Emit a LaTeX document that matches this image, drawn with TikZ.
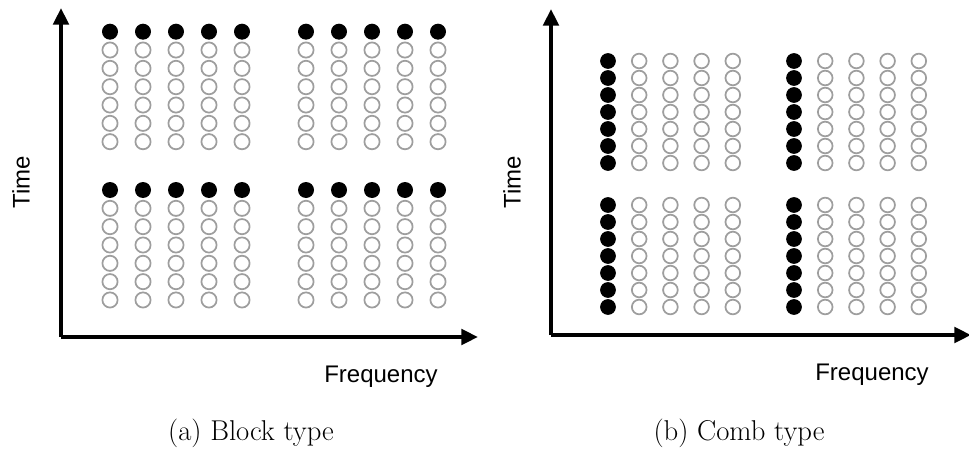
\documentclass[tikz,border=0pt]{standalone}
\usepackage{fontspec}
\newfontfamily\axisfont{Liberation Sans}
\usetikzlibrary{arrows.meta}
\definecolor{pilotgray}{rgb}{0.62,0.62,0.62}
\tikzset{
  axisline/.style={line width=3pt, -{Triangle[length=12.5pt,width=11.5pt]}},
  axislabel/.style={font=\axisfont\fontsize{18}{21}\selectfont, inner sep=0pt},
  caption/.style={font=\fontsize{21.5}{25}\selectfont, inner sep=0pt},
  pilot/.style={fill=black},
  datacell/.style={draw=pilotgray, line width=1.3pt, fill=white},
}
\begin{document}
\begin{tikzpicture}[x=0.75pt,y=-0.75pt]
\useasboundingbox (0,0) rectangle (969,456);

% ---------- (a) block type ----------
\coordinate (oa) at (61,337);
\coordinate (ta) at (61,8);
\coordinate (fa) at (478,337);
\draw[axisline] (oa) -- (ta);
\draw[axisline] (oa) -- (fa);
\foreach \gx in {110,306}{
  \foreach \gy in {31.7,190}{
    \foreach \i in {0,...,4}{
      \foreach \j in {1,...,6}{
        \draw[datacell] (\gx+33*\i,\gy+18.33*\j) circle[radius=5.7pt];
      }
      \fill[pilot] (\gx+33*\i,\gy) circle[radius=6pt];
    }
  }
}
\node[axislabel, rotate=90] (timea) at (21,182) {Time};
\node[axislabel] (freqa) at (381,377) {Frequency};
\node[caption] (capa) at (251,433) {(a) Block type};

% ---------- (b) comb type ----------
\coordinate (ob) at (551,335);
\coordinate (tb) at (551,9);
\coordinate (fb) at (971,335);
\draw[axisline] (ob) -- (tb);
\draw[axisline] (ob) -- (fb);
\foreach \gx in {608,794}{
  \foreach \gy in {61,205}{
    \foreach \j in {0,...,6}{
      \foreach \i in {1,...,4}{
        \draw[datacell] (\gx+31.2*\i,\gy+17*\j) circle[radius=5.5pt];
      }
      \fill[pilot] (\gx,\gy+17*\j) circle[radius=5.9pt];
    }
  }
}
\node[axislabel, rotate=90] (timeb) at (512,182) {Time};
\node[axislabel] (freqb) at (872,375) {Frequency};
\node[caption] (capb) at (739,433) {(b) Comb type};
\end{tikzpicture}
\end{document}
